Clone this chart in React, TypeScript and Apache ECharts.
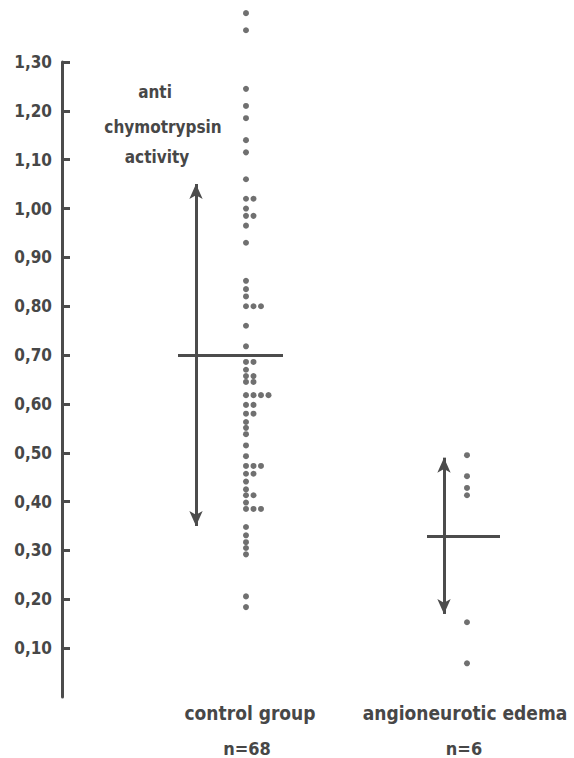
import React, { useEffect, useRef } from "react";
import * as echarts from "echarts";

// ---- data ----
const groups = ["control group", "angioneurotic edema"];
const groupN = ["n=68", "n=6"];
const yTicks = [0.1, 0.2, 0.3, 0.4, 0.5, 0.6, 0.7, 0.8, 0.9, 1.0, 1.1, 1.2, 1.3];
const controlValues = [
  1.4, 1.365, 1.245, 1.21, 1.185, 1.14, 1.115, 1.06, 1.02, 1.02, 1.0, 0.985, 0.985,
  0.965, 0.93, 0.852, 0.835, 0.82, 0.8, 0.8, 0.8, 0.76, 0.718, 0.686, 0.686, 0.67,
  0.657, 0.657, 0.645, 0.645, 0.618, 0.618, 0.618, 0.618, 0.598, 0.598, 0.58, 0.58,
  0.563, 0.551, 0.538, 0.515, 0.493, 0.473, 0.473, 0.473, 0.457, 0.457, 0.441, 0.425,
  0.413, 0.413, 0.398, 0.385, 0.385, 0.385, 0.348, 0.331, 0.317, 0.305, 0.292, 0.206,
  0.184,
];
const angioValues = [0.495, 0.452, 0.428, 0.413, 0.153, 0.069];
const controlMean = 0.7;
const controlSD = 0.35;
const angioMean = 0.33;
const angioSD = 0.16;

// ---- layout (x-axis units, 0..10) ----
const groupX = [3.68, 8.1];
const colStep = 0.15;
const arrowX = [2.68, 7.64];
const meanLineX = [
  [2.32, 4.42],
  [7.3, 8.76],
];

const INK = "#4c4c4c";
const TEXT = "#474747";
const FONT = "'DejaVu Sans Condensed', 'DejaVu Sans', sans-serif";

function swarm(values: number[], cx: number): number[][] {
  const seen: Record<string, number> = {};
  return values.map((v) => {
    const k = v.toFixed(3);
    const c = seen[k] || 0;
    seen[k] = c + 1;
    return [cx + c * colStep, v];
  });
}

function markLines(i: number, mean: number, sd: number) {
  return [
    [
      { coord: [arrowX[i], mean - sd] },
      { coord: [arrowX[i], mean + sd] },
    ],
    [
      { coord: [meanLineX[i][0], mean], symbol: "none" },
      { coord: [meanLineX[i][1], mean], symbol: "none" },
    ],
  ];
}

export default function App() {
  const ref = useRef<HTMLDivElement>(null);
  useEffect(() => {
    document.body.style.margin = "0";
    const chart = echarts.init(ref.current!, null, { renderer: "svg" });
    const dotStyle = { color: INK };
    const ml = (i: number, mean: number, sd: number) => ({
      silent: true,
      symbol: ["arrow", "arrow"],
      symbolSize: [10, 15],
      label: { show: false },
      lineStyle: { color: INK, width: 3, type: "solid" },
      emphasis: { disabled: true },
      data: markLines(i, mean, sd),
    });
    chart.setOption({
      animation: false,
      grid: { left: 62, right: 12, top: 62, bottom: 61 },
      xAxis: { type: "value", min: 0, max: 10, show: false },
      yAxis: {
        type: "value",
        min: 0,
        max: 1.3,
        interval: 0.1,
        splitLine: { show: false },
        axisLine: { show: true, lineStyle: { color: INK, width: 3 } },
        axisTick: {
          show: true,
          inside: true,
          length: 8,
          lineStyle: { color: INK, width: 3 },
          customValues: yTicks,
        },
        axisLabel: {
          customValues: yTicks,
          margin: 10,
          color: TEXT,
          fontFamily: FONT,
          fontWeight: "bold",
          fontSize: 17,
          formatter: (v: number) => v.toFixed(2).replace(".", ","),
        },
      },
      series: [
        {
          type: "scatter",
          clip: false,
          symbolSize: 6,
          itemStyle: dotStyle,
          data: swarm(controlValues, groupX[0]),
          markLine: ml(0, controlMean, controlSD),
        },
        {
          type: "scatter",
          clip: false,
          symbolSize: 6,
          itemStyle: dotStyle,
          data: swarm(angioValues, groupX[1]),
          markLine: ml(1, angioMean, angioSD),
        },
      ],
      graphic: [
        ...[
          ["anti", 155, 92],
          ["chymotrypsin", 163, 127],
          ["activity", 157, 157],
        ].map(([t, x, y]) => ({
          type: "text",
          x,
          y,
          style: {
            text: t,
            fill: TEXT,
            font: `bold 17px ${FONT}`,
            textAlign: "center",
            textVerticalAlign: "middle",
          },
        })),
        ...groups.flatMap((g, i) => [
          {
            type: "text",
            x: [250, 465][i],
            y: 713,
            style: {
              text: g,
              fill: TEXT,
              font: `bold 19px ${FONT}`,
              textAlign: "center",
              textVerticalAlign: "middle",
            },
          },
          {
            type: "text",
            x: [247, 464][i],
            y: 748,
            style: {
              text: groupN[i],
              fill: TEXT,
              font: `bold 18px ${FONT}`,
              textAlign: "center",
              textVerticalAlign: "middle",
            },
          },
        ]),
      ],
    });
    return () => chart.dispose();
  }, []);
  return <div ref={ref} style={{ width: 574, height: 758 }} />;
}
